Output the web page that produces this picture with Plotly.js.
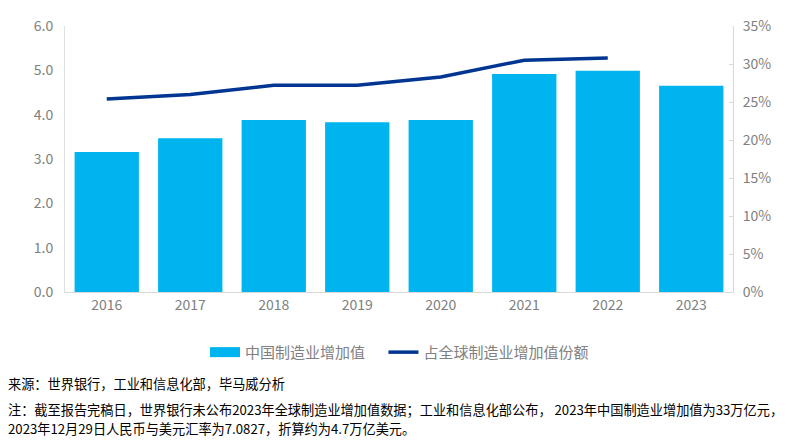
<!DOCTYPE html>
<html><head><meta charset="utf-8">
<script src="https://cdn.plot.ly/plotly-3.0.1.min.js"></script>
<style>body{margin:0;background:#fff}#c{width:802px;height:445px}</style>
</head><body><div id="c"></div>
<script>
const years = ['2016','2017','2018','2019','2020','2021','2022','2023'];
const chinaMVA = [3.16, 3.47, 3.88, 3.83, 3.88, 4.92, 4.99, 4.65];
const shareYears = ['2016','2017','2018','2019','2020','2021','2022'];
const globalShare = [25.4, 26.0, 27.2, 27.2, 28.3, 30.5, 30.8];
const barName = '中国制造业增加值';
const lineName = '占全球制造业增加值份额';
const leftTicks = [0,1,2,3,4,5,6];
const rightTicks = [0,5,10,15,20,25,30,35];
const sourceText = '来源：世界银行，工业和信息化部，毕马威分析';
const noteLines = ['注：截至报告完稿日，世界银行未公布2023年全球制造业增加值数据；工业和信息化部公布， 2023年中国制造业增加值为33万亿元，',
                   '2023年12月29日人民币与美元汇率为7.0827，折算约为4.7万亿美元。'];

const font = 'Noto Sans CJK SC, Noto Sans, sans-serif';
const grey = '#808080';
const barColor = '#00b5ef';
const lineColor = '#003591';
const pad = '\u00a0\u00a0\u00a0\u00a0';
const data = [
  {type:'bar', x:years, y:chinaMVA, name:barName, marker:{color:barColor}, width:0.77, yaxis:'y', showlegend:false},
  {type:'scatter', mode:'lines', x:shareYears, y:globalShare, name:lineName, line:{color:lineColor, width:3.5}, yaxis:'y2', showlegend:false},
  {type:'scatter', mode:'lines', x:[null], y:[null], name:barName + pad, line:{color:barColor, width:11}, yaxis:'y', showlegend:true},
  {type:'scatter', mode:'lines', x:[null], y:[null], name:lineName, line:{color:lineColor, width:3.5}, yaxis:'y2', showlegend:true}
];
const ann = (y, text) => ({xref:'paper', yref:'paper', x:(6-65)/668, xanchor:'left', y:-(y-292)/266, yanchor:'middle', showarrow:false, align:'left', text:text, font:{size:13.2, color:'#000', family:font}});
const layout = {
  width:802, height:445,
  margin:{l:65, r:69, t:26, b:153},
  paper_bgcolor:'#fff', plot_bgcolor:'#fff',
  font:{family:font, color:grey, size:14},
  showlegend:true,
  legend:{orientation:'h', x:(205-65)/668, xanchor:'left', y:-0.165, yanchor:'top', font:{size:15, color:grey}, traceorder:'normal'},
  xaxis:{type:'category', showgrid:false, showline:true, linecolor:'#d9d9d9', ticks:'', tickfont:{size:14, color:grey}},
  yaxis:{range:[0,6], tickvals:leftTicks, ticktext:leftTicks.map(v=>v.toFixed(1)), showgrid:false, showline:true, linecolor:'#e0e0e0', zeroline:false, tickfont:{size:14,color:grey}, ticks:'', ticklabelstandoff:8},
  yaxis2:{range:[0,35], overlaying:'y', side:'right', tickvals:rightTicks, ticktext:rightTicks.map(v=>v+'%'), showgrid:false, showline:true, linecolor:'#d9d9d9', zeroline:false, ticks:'inside', ticklen:4, tickcolor:'#d9d9d9', tickfont:{size:14,color:grey}, ticklabelstandoff:6},
  annotations:[ann(383, sourceText), ann(409, noteLines[0]), ann(428, noteLines[1])]
};
Plotly.newPlot('c', data, layout, {displayModeBar:false, staticPlot:true});
</script></body></html>
